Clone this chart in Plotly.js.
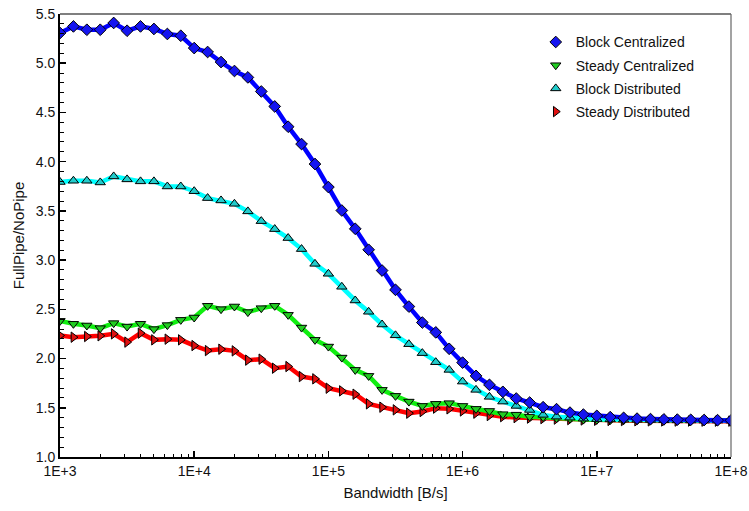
<!DOCTYPE html>
<html>
<head>
<meta charset="utf-8">
<script src="https://cdn.plot.ly/plotly-3.0.1.min.js"></script>
<style>
  html, body { margin: 0; padding: 0; background: #fff; }
  #chart { width: 749px; height: 511px; }
</style>
</head>
<body>
<div id="chart"></div>
<script>
// Link bandwidth sweep (B/s), ten steps per decade
const bandwidth = [
  1.000e3, 1.259e3, 1.585e3, 1.995e3, 2.512e3, 3.162e3, 3.981e3, 5.012e3, 6.310e3, 7.943e3,
  1.000e4, 1.259e4, 1.585e4, 1.995e4, 2.512e4, 3.162e4, 3.981e4, 5.012e4, 6.310e4, 7.943e4,
  1.000e5, 1.259e5, 1.585e5, 1.995e5, 2.512e5, 3.162e5, 3.981e5, 5.012e5, 6.310e5, 7.943e5,
  1.000e6, 1.259e6, 1.585e6, 1.995e6, 2.512e6, 3.162e6, 3.981e6, 5.012e6, 6.310e6, 7.943e6,
  1.000e7, 1.259e7, 1.585e7, 1.995e7, 2.512e7, 3.162e7, 3.981e7, 5.012e7, 6.310e7, 7.943e7,
  1.000e8
];

// FullPipe / NoPipe speedup ratios
const blockCentralized = [
  5.307, 5.374, 5.340, 5.340, 5.409, 5.330, 5.374, 5.348, 5.297, 5.279,
  5.154, 5.114, 5.012, 4.921, 4.856, 4.713, 4.561, 4.355, 4.179, 3.976,
  3.742, 3.504, 3.318, 3.105, 2.894, 2.698, 2.528, 2.366, 2.266, 2.099,
  1.959, 1.824, 1.733, 1.662, 1.594, 1.553, 1.506, 1.486, 1.451, 1.431,
  1.418, 1.405, 1.398, 1.390, 1.385, 1.382, 1.380, 1.378, 1.376, 1.374, 1.372
];
const steadyCentralized = [
  2.383, 2.353, 2.336, 2.309, 2.360, 2.325, 2.353, 2.299, 2.340, 2.393,
  2.417, 2.536, 2.502, 2.529, 2.472, 2.512, 2.536, 2.444, 2.315, 2.190,
  2.122, 2.010, 1.885, 1.824, 1.682, 1.621, 1.563, 1.519, 1.540, 1.547,
  1.519, 1.489, 1.468, 1.435, 1.430, 1.410, 1.405, 1.395, 1.390, 1.380,
  1.378, 1.376, 1.374, 1.373, 1.372, 1.371, 1.370, 1.369, 1.368, 1.368, 1.367
];
const blockDistributed = [
  3.793, 3.806, 3.806, 3.789, 3.850, 3.820, 3.800, 3.800, 3.748, 3.748,
  3.700, 3.630, 3.606, 3.572, 3.495, 3.396, 3.315, 3.224, 3.112, 2.962,
  2.861, 2.729, 2.590, 2.475, 2.346, 2.236, 2.146, 2.055, 1.963, 1.885,
  1.766, 1.682, 1.611, 1.563, 1.519, 1.478, 1.428, 1.410, 1.400, 1.390,
  1.385, 1.382, 1.380, 1.378, 1.376, 1.374, 1.372, 1.371, 1.370, 1.370, 1.369
];
const steadyDistributed = [
  2.234, 2.217, 2.224, 2.231, 2.251, 2.167, 2.258, 2.190, 2.197, 2.190,
  2.132, 2.081, 2.095, 2.078, 1.984, 1.994, 1.902, 1.919, 1.817, 1.794,
  1.699, 1.672, 1.638, 1.540, 1.506, 1.479, 1.445, 1.462, 1.496, 1.489,
  1.468, 1.445, 1.421, 1.410, 1.400, 1.395, 1.390, 1.385, 1.380, 1.376,
  1.373, 1.371, 1.370, 1.368, 1.367, 1.366, 1.365, 1.365, 1.364, 1.364, 1.364
];

const xTickVals = [1e3, 1e4, 1e5, 1e6, 1e7, 1e8];
const xTickText = ['1E+3', '1E+4', '1E+5', '1E+6', '1E+7', '1E+8'];

const seriesNames = ['Block Centralized', 'Steady Centralized', 'Block Distributed', 'Steady Distributed'];
const seriesData = [blockCentralized, steadyCentralized, blockDistributed, steadyDistributed];

const styles = [
  { line: '#0000ff', fill: '#1515f0', symbol: 'diamond', size: 9 },
  { line: '#11ee11', fill: '#22cc22', symbol: 'triangle-down', size: 9 },
  { line: '#00ffff', fill: '#22cccc', symbol: 'triangle-up', size: 9 },
  { line: '#ff0000', fill: '#e01010', symbol: 'triangle-right', size: 9 }
];

// Thick curves (no legend entry), then the markers that carry the legend
const lineTraces = seriesData.map((ys, k) => ({
  x: bandwidth, y: ys, type: 'scatter', mode: 'lines',
  line: { color: styles[k].line, width: 4.5 },
  showlegend: false, hoverinfo: 'skip'
}));
const markerTraces = seriesData.map((ys, k) => ({
  x: bandwidth, y: ys, type: 'scatter', mode: 'markers', name: seriesNames[k],
  legendgroup: 'series' + k, legendrank: k + 1,
  marker: { symbol: styles[k].symbol, size: styles[k].size, color: styles[k].fill,
            line: { color: '#000', width: 1 } }
}));

// Draw order so the blue curve sits on top
const order = [3, 1, 2, 0];
const traces = [];
order.forEach(k => { traces.push(lineTraces[k]); traces.push(markerTraces[k]); });

const fontFamily = 'Arial, "Liberation Sans", sans-serif';

const layout = {
  width: 749, height: 511,
  margin: { l: 60, r: 18, t: 14, b: 54 },
  paper_bgcolor: '#fff', plot_bgcolor: '#fff',
  font: { family: fontFamily, size: 14, color: '#111' },
  xaxis: {
    type: 'log', range: [3, 8],
    tickmode: 'array', tickvals: xTickVals, ticktext: xTickText,
    ticks: 'inside', ticklen: 6, tickwidth: 1.5, tickcolor: '#000',
    minor: { dtick: 'D1', ticks: 'inside', ticklen: 3.5, tickwidth: 1, tickcolor: '#000', showgrid: false },
    showline: true, linecolor: '#000', linewidth: 2,
    showgrid: false, zeroline: false,
    tickfont: { size: 14 },
    title: { text: 'Bandwidth [B/s]', font: { size: 15 }, standoff: 10 }
  },
  yaxis: {
    range: [1.0, 5.5], dtick: 0.5, tick0: 1.0, tickformat: '.1f',
    ticks: 'inside', ticklen: 6, tickwidth: 1.5, tickcolor: '#000',
    minor: { dtick: 0.1, ticks: 'inside', ticklen: 3.5, tickwidth: 1, tickcolor: '#000', showgrid: false },
    showline: true, linecolor: '#000', linewidth: 2,
    showgrid: false, zeroline: false,
    tickfont: { size: 14 },
    title: { text: 'FullPipe/NoPipe', font: { size: 15 }, standoff: 7 }
  },
  shapes: [
    { type: 'line', xref: 'paper', yref: 'paper', x0: 0, x1: 1, y0: 1, y1: 1,
      line: { color: '#555', width: 1.5 } },
    { type: 'line', xref: 'paper', yref: 'paper', x0: 1, x1: 1, y0: 0, y1: 1,
      line: { color: '#666', width: 1.2 } }
  ],
  legend: {
    x: 0.709, y: 0.972, xanchor: 'left', yanchor: 'top',
    bgcolor: 'rgba(0,0,0,0)', borderwidth: 0,
    font: { family: fontFamily, size: 14, color: '#111' },
    traceorder: 'grouped', tracegroupgap: 2
  },
  showlegend: true
};

Plotly.newPlot('chart', traces, layout, { displayModeBar: false, staticPlot: true });
</script>
</body>
</html>
